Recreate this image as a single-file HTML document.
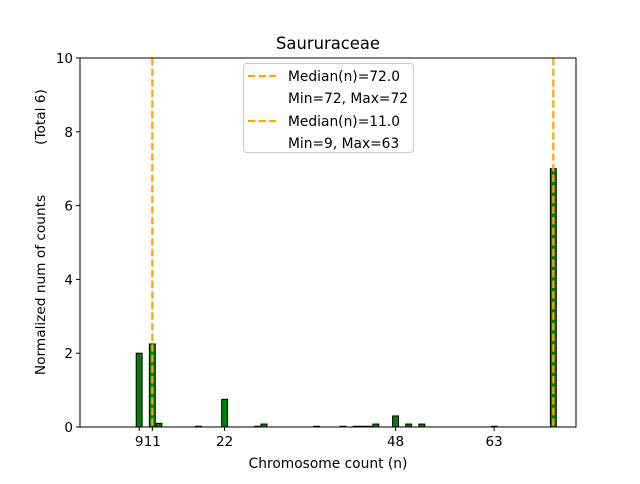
<!DOCTYPE html>
<html><head><meta charset="utf-8"><style>
body{margin:0;background:#fff;font-family:"DejaVu Sans","Liberation Sans",sans-serif;}
svg text{font-family:"DejaVu Sans","Liberation Sans",sans-serif;}
</style></head><body>
<svg id="chart" width="640" height="480" xmlns="http://www.w3.org/2000/svg">
<rect width="640" height="480" fill="#fff"/>
<g id="bars"></g>
<g id="medians"></g>
<rect x="80" y="58" width="496" height="369" fill="none" stroke="#000" stroke-width="1"/>
<g id="xticks"></g>
<g id="yticks"></g>
<text x="328" y="49" text-anchor="middle" font-size="16.4">Saururaceae</text>
<text x="328" y="468" text-anchor="middle" font-size="13.8">Chromosome count (n)</text>
<text transform="translate(45,285) rotate(-90)" text-anchor="middle" font-size="13.7">Normalized num of counts</text>
<text transform="translate(45,117) rotate(-90)" text-anchor="middle" font-size="13.7">(Total 6)</text>
<g>
<rect x="243.5" y="63.5" width="170" height="89" rx="3" fill="#fff" fill-opacity="0.8" stroke="#ccc"/>
<line x1="248" y1="76" x2="276" y2="76" stroke="#FFA500" stroke-width="2.2" stroke-dasharray="7.4,3.2"/>
<text x="288" y="81" font-size="13.8">Median(n)=72.0</text>
<text x="288" y="103" font-size="13.8">Min=72, Max=72</text>
<line x1="248" y1="121" x2="276" y2="121" stroke="#FFA500" stroke-width="2.2" stroke-dasharray="7.4,3.2"/>
<text x="288" y="126" font-size="13.8">Median(n)=11.0</text>
<text x="288" y="148" font-size="13.8">Min=9, Max=63</text>
</g>
</svg>
<script>
const categories=[9,11,12,18,22,27,28,36,40,42,43,44,45,48,50,52,63,72];
const values=[2.0,2.25,0.1,0.02,0.75,0.02,0.08,0.02,0.02,0.02,0.02,0.02,0.08,0.3,0.08,0.08,0.02,7.0];
const medians=[72,11];
const xTicks=[9,11,22,48,63];
const xTickLabels=["9","11","22","48","63"];
const yTicks=[0,2,4,6,8,10];
const NS="http://www.w3.org/2000/svg";
const X0=80,X1=576,Y0=427,Y1=58,XMAX=75.45,YMAX=10;
function xs(v){return X0+v/XMAX*(X1-X0);}
function ys(v){return Y0-v/YMAX*(Y0-Y1);}
function mk(t,a,p){const e=document.createElementNS(NS,t);for(const k in a)e.setAttribute(k,a[k]);p.appendChild(e);return e;}
const bw=0.9/XMAX*(X1-X0);
const gb=document.getElementById('bars');
categories.forEach((c,i)=>{
 const r=mk('rect',{x:xs(c)-bw/2,y:ys(values[i]),width:bw,height:Y0-ys(values[i]),fill:'#008000',stroke:'#000','stroke-width':1},gb);
 
 
});
const gm=document.getElementById('medians');
medians.forEach(m=>{
 const l=mk('line',{x1:xs(m),x2:xs(m),y1:Y1,y2:Y0,stroke:'#FFA500','stroke-width':2.2,'stroke-dasharray':'7.4,3.2'},gm);
 
 
});
const gx=document.getElementById('xticks');
xTicks.forEach((t,i)=>{
 mk('line',{x1:xs(t),x2:xs(t),y1:Y0,y2:Y0+4,stroke:'#000'},gx);
 const tx=mk('text',{x:xs(t),y:Y0+19,'text-anchor':'middle','font-size':13.5},gx);
 tx.textContent=xTickLabels[i];
 
 
});
const gy=document.getElementById('yticks');
yTicks.forEach(t=>{
 mk('line',{x1:X0-4,x2:X0,y1:ys(t),y2:ys(t),stroke:'#000'},gy);
 const tx=mk('text',{x:X0-7,y:ys(t)+5,'text-anchor':'end','font-size':13.5},gy);
 tx.textContent=t;
 
 
});
</script>
</body></html>
